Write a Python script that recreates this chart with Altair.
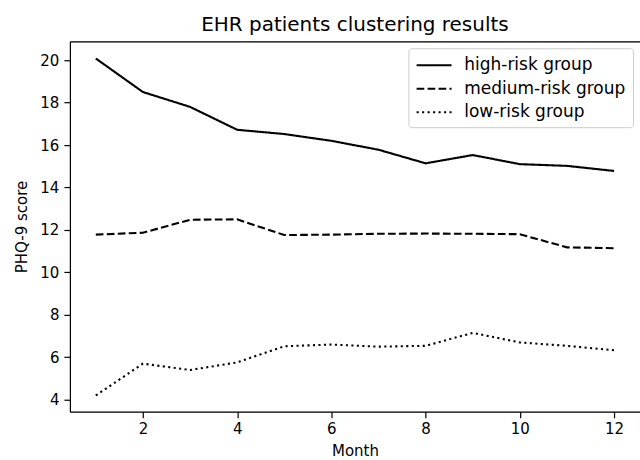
import altair as alt
import pandas as pd

months = list(range(1, 13))
high = [20.08, 18.5, 17.8, 16.72, 16.52, 16.2, 15.78, 15.14, 15.53, 15.1, 15.02, 14.78]
medium = [11.78, 11.87, 12.48, 12.5, 11.76, 11.78, 11.82, 11.83, 11.82, 11.8, 11.18, 11.14]
low = [4.2, 5.7, 5.4, 5.76, 6.52, 6.6, 6.5, 6.54, 7.15, 6.7, 6.54, 6.33]
groups = ["high-risk group", "medium-risk group", "low-risk group"]
x_ticks = [2, 4, 6, 8, 10, 12]
y_ticks = [4, 6, 8, 10, 12, 14, 16, 18, 20]

rows = []
for g, vals in zip(groups, [high, medium, low]):
    for m, v in zip(months, vals):
        rows.append({"Month": m, "score": v, "group": g})
df = pd.DataFrame(rows)

FONT = "DejaVu Sans"
xscale = alt.Scale(domain=[0.45, 12.55], nice=False, zero=False)
yscale = alt.Scale(domain=[3.435, 20.89], nice=False, zero=False)

lines = alt.Chart(df).mark_line(color="black", strokeWidth=2.1, strokeCap="butt").encode(
    x=alt.X("Month:Q", scale=xscale,
            axis=alt.Axis(values=x_ticks, title="Month", grid=False, domainColor="black",
                          domainWidth=1.2, tickColor="black", tickWidth=1.2, tickSize=6,
                          labelFont=FONT, labelFontSize=15, labelColor="black", labelPadding=4,
                          titleFont=FONT, titleFontSize=15, titleFontWeight="normal",
                          titleColor="black", titlePadding=7)),
    y=alt.Y("score:Q", scale=yscale,
            axis=alt.Axis(values=y_ticks, title="PHQ-9 score", grid=False, domainColor="black",
                          domainWidth=1.2, tickColor="black", tickWidth=1.2, tickSize=6,
                          labelFont=FONT, labelFontSize=15, labelColor="black", labelPadding=5,
                          titleFont=FONT, titleFontSize=15, titleFontWeight="normal",
                          titleColor="black", titlePadding=10)),
    strokeDash=alt.StrokeDash(
        "group:N",
        scale=alt.Scale(domain=groups, range=[[1, 0], [7.7, 3.3], [2.1, 3.4]]),
        legend=alt.Legend(title=None, orient="none", legendX=339, legendY=7,
                          symbolType="M-1,0H3", symbolSize=306, symbolStrokeWidth=2.1,
                          symbolStrokeColor="black", labelFont=FONT, labelFontSize=17,
                          labelColor="black", labelOffset=29, padding=7, rowPadding=5.5,
                          strokeColor="#cccccc", fillColor="white", cornerRadius=3,
                          labelLimit=300),
    ),
)

top = alt.Chart(df).mark_point(opacity=0).encode(
    x=alt.X("Month:Q", scale=xscale,
            axis=alt.Axis(orient="top", labels=False, ticks=False, title=None, grid=False,
                          domainColor="black", domainWidth=1.2)),
    y=alt.Y("score:Q", scale=yscale, axis=None),
)

chart = alt.layer(lines, top).resolve_axis(x="independent", y="independent").properties(
    width=571, height=371,
    title=alt.TitleParams("EHR patients clustering results", font=FONT, fontSize=20,
                          fontWeight="normal", color="black", anchor="middle", offset=6),
    autosize="none",
    padding={"left": 70, "top": 41, "right": 0, "bottom": 48},
).configure_view(stroke=None).configure(background="white")

chart.save("out.html", embed_options={"renderer": "svg", "actions": False})
